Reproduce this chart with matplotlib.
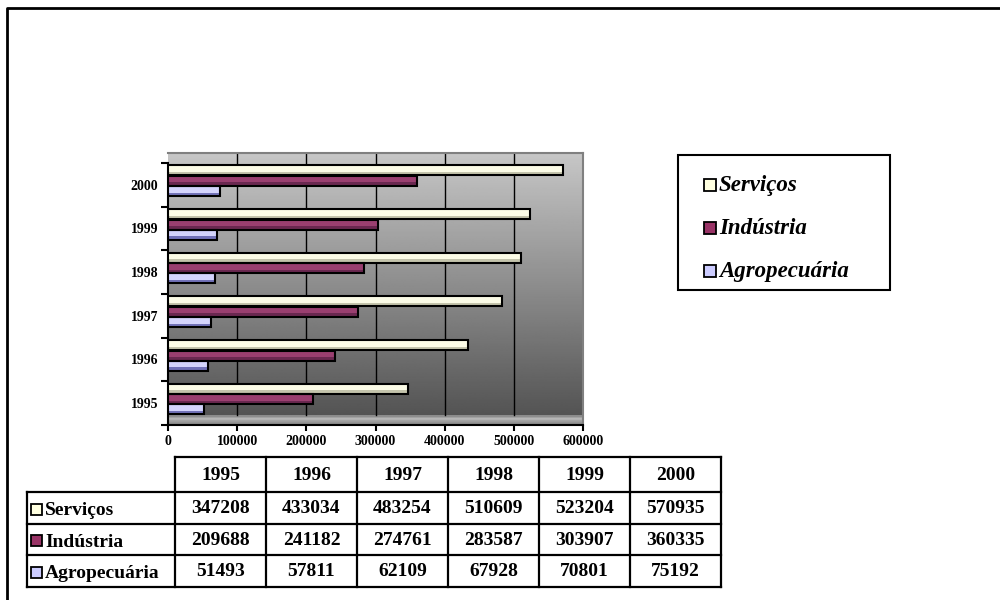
import numpy as np
import matplotlib.pyplot as plt
from matplotlib.patches import Rectangle

plt.rcParams['font.family'] = ['Liberation Serif', 'DejaVu Serif']

# data
anos = ['1995', '1996', '1997', '1998', '1999', '2000']
servicos = [347208, 433034, 483254, 510609, 523204, 570935]
industria = [209688, 241182, 274761, 283587, 303907, 360335]
agropecuaria = [51493, 57811, 62109, 67928, 70801, 75192]
series_names = ['Serviços', 'Indústria', 'Agropecuária']
xticks = [0, 100000, 200000, 300000, 400000, 500000, 600000]

# face colours: light / dark halves for the cylinder look, plus legend colour
cores = {
    'Serviços': ('#fbfbe6', '#c4c4ac', '#ffffe0'),
    'Indústria': ('#9a3f70', '#6a2850', '#993366'),
    'Agropecuária': ('#d4d4fc', '#7272b8', '#ccccff'),
}

fig = plt.figure(figsize=(10, 6), dpi=100)
ax = fig.add_axes([0.168, 1 - 425 / 600, 0.415, (425 - 153) / 600])

ypx = 43.67  # pixels per category
floor_top = -0.5 + 10 / ypx
ytop = 5.5 + 10 / ypx
xmax = 600000
ax.set_xlim(0, xmax)
ax.set_ylim(-0.5, ytop)

# gradient wall
grad = np.linspace(0.78, 0.33, 256).reshape(-1, 1)
ax.imshow(grad, cmap='gray', vmin=0, vmax=1, aspect='auto',
          extent=[0, xmax, floor_top, ytop], zorder=0)
# floor
fgrad = np.array([0.55, 0.72, 0.62, 0.55]).reshape(-1, 1)
ax.imshow(fgrad, cmap='gray', vmin=0, vmax=1, aspect='auto',
          extent=[0, xmax, -0.5, floor_top], zorder=0)

for xv in xticks[1:-1]:
    ax.plot([xv, xv], [floor_top, ytop], color='black', lw=1, zorder=1)

y = np.arange(len(anos))
h = 0.23
offsets = [0.33, 0.09, -0.14]
for name, vals, off in zip(series_names, [servicos, industria, agropecuaria], offsets):
    light, dark, _ = cores[name]
    ax.barh(y + off, vals, height=h, color=dark, zorder=2)
    ax.barh(y + off + h * 0.12, vals, height=h * 0.55, color=light, zorder=3)
    ax.barh(y + off, vals, height=h, color='none', edgecolor='black', lw=1.5, zorder=4)

ax.set_xticks(xticks)
ax.set_xticklabels([str(v) for v in xticks], fontsize=10, fontweight='bold')
ax.set_yticks(np.arange(-0.5, 6, 1))
ax.set_yticklabels([])
ax.set_yticks(y, minor=True)
ax.set_yticklabels(anos, minor=True, fontsize=10, fontweight='bold')
ax.tick_params(axis='y', which='minor', length=0, pad=7)
ax.tick_params(axis='y', which='major', length=5, width=1.5, direction='out')
ax.tick_params(axis='x', length=4, width=1.5, direction='out', pad=3)
ax.spines['left'].set_bounds(-0.5, 5.5)
ax.spines['left'].set_linewidth(1.5)
ax.spines['bottom'].set_linewidth(1.5)
ax.spines['top'].set_color('#808080')
ax.spines['right'].set_color('#808080')
ax.spines['top'].set_linewidth(1.5)
ax.spines['right'].set_linewidth(1.5)

# overlay in pixel coordinates for border, legend and data table
ov = fig.add_axes([0, 0, 1, 1], zorder=-1)
ov.set_xlim(0, 1000)
ov.set_ylim(600, 0)
ov.axis('off')
ov.plot([7, 7, 1000], [600, 8, 8], color='black', lw=2)

ov2 = fig.add_axes([0, 0, 1, 1], zorder=5)
ov2.set_xlim(0, 1000)
ov2.set_ylim(600, 0)
ov2.axis('off')
ov2.patch.set_alpha(0)

# legend
ov2.add_patch(Rectangle((678, 155), 212, 135, fill=False, edgecolor='black', lw=1.5))
for i, name in enumerate(series_names):
    yc = 185 + i * 43
    ov2.add_patch(Rectangle((704, yc - 6), 12, 12, facecolor=cores[name][2],
                            edgecolor='black', lw=1.3))
    ov2.text(719, yc + 1, name, fontsize=16.5, fontweight='bold', style='italic',
             va='center', ha='left')

# table
cols = [175, 266, 357, 448, 539, 630, 721]
rows = [457, 492, 523.5, 555, 587]
lw = 1.6
ov2.plot([175, 721], [457, 457], color='black', lw=lw)
for yy in rows[1:]:
    ov2.plot([27, 721], [yy, yy], color='black', lw=lw)
ov2.plot([27, 27], [492, 587], color='black', lw=lw)
for xx in cols:
    ov2.plot([xx, xx], [457, 587], color='black', lw=lw)
for j, ano in enumerate(anos):
    ov2.text((cols[j] + cols[j + 1]) / 2, 475, ano, fontsize=14,
             fontweight='bold', ha='center', va='center')
for i, (name, vals) in enumerate(zip(series_names, [servicos, industria, agropecuaria])):
    yc = (rows[i + 1] + rows[i + 2]) / 2
    ov2.add_patch(Rectangle((31, yc - 4), 11, 11, facecolor=cores[name][2],
                            edgecolor='black', lw=1.3))
    ov2.text(45, yc + 3, name, fontsize=14, fontweight='bold', ha='left', va='center')
    for j, v in enumerate(vals):
        ov2.text((cols[j] + cols[j + 1]) / 2, yc + 1, str(v), fontsize=14,
                 fontweight='bold', ha='center', va='center')

fig.savefig('out.png', dpi=100)
